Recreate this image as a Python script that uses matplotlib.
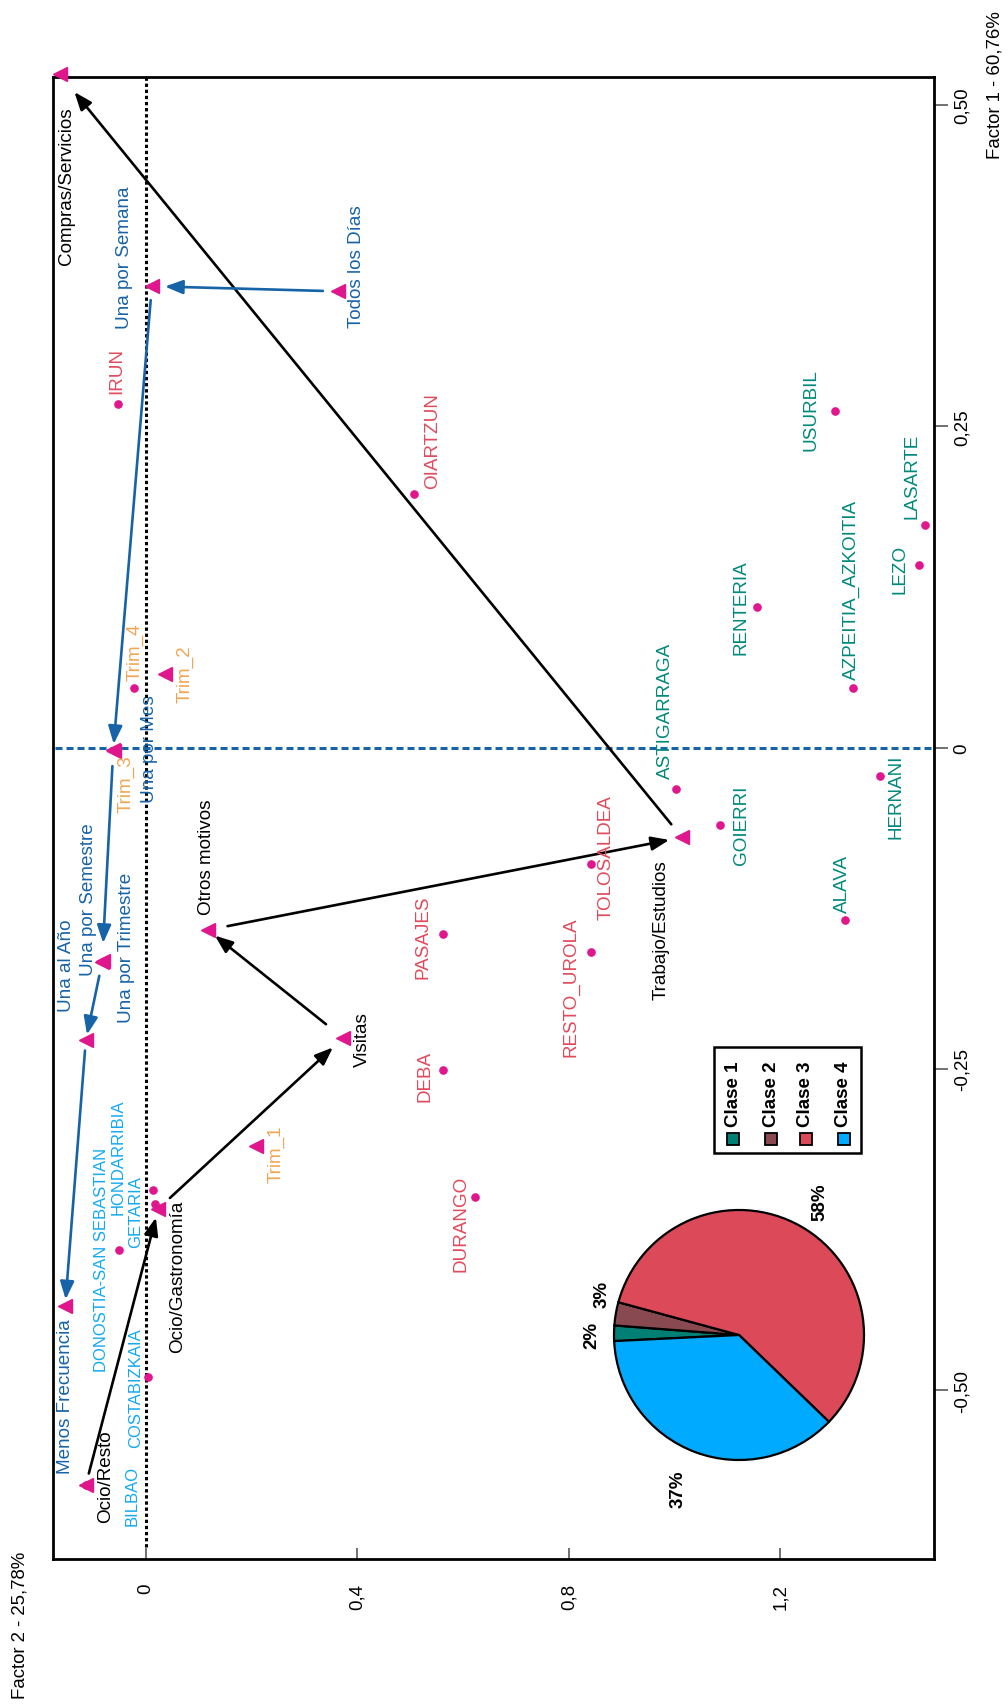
import matplotlib
matplotlib.use('Agg')
import numpy as np
import matplotlib.pyplot as plt
from matplotlib.patches import Rectangle

plt.rcParams['font.family'] = ['Liberation Sans', 'DejaVu Sans']

# ---------------- data (Factor 2 = horizontal, Factor 1 = vertical) ----------------
motivos = ['Compras/Servicios', 'Trabajo/Estudios', 'Otros motivos', 'Visitas',
           'Ocio/Gastronomía', 'Ocio/Resto']
motivos_f2 = [-0.163, 1.014, 0.117, 0.373, 0.023, -0.114]
motivos_f1 = [0.524, -0.070, -0.142, -0.226, -0.359, -0.574]

frecuencias = ['Todos los Días', 'Una por Semana', 'Una por Mes', 'Una por Trimestre',
               'Una por Semestre', 'Una al Año', 'Menos Frecuencia']
frec_f2 = [0.363, 0.011, -0.062, -0.081, -0.083, -0.114, -0.153]
frec_f1 = [0.355, 0.359, -0.002, -0.166, -0.167, -0.228, -0.435]

trimestres = ['Trim_1', 'Trim_2', 'Trim_3']
trim_f2 = [0.208, 0.036, -0.061]
trim_f1 = [-0.310, 0.057, -0.003]
trim4_name = 'Trim_4'
trim4_f2 = [-0.023]
trim4_f1 = [0.046]

clase1 = ['USURBIL', 'LASARTE', 'LEZO', 'AZPEITIA_AZKOITIA', 'RENTERIA', 'HERNANI',
          'GOIERRI', 'ASTIGARRAGA', 'ALAVA']
clase1_f2 = [1.303, 1.474, 1.462, 1.338, 1.156, 1.389, 1.086, 1.003, 1.322]
clase1_f1 = [0.262, 0.173, 0.142, 0.046, 0.109, -0.022, -0.060, -0.032, -0.134]

clase3 = ['IRUN', 'OIARTZUN', 'TOLOSALDEA', 'RESTO_UROLA', 'PASAJES', 'DEBA', 'DURANGO']
clase3_f2 = [-0.053, 0.507, 0.842, 0.842, 0.562, 0.562, 0.622]
clase3_f1 = [0.267, 0.197, -0.091, -0.159, -0.145, -0.251, -0.350]

clase4 = ['GETARIA', 'HONDARRIBIA', 'DONOSTIA-SAN SEBASTIAN', 'COSTABIZKAIA', 'BILBAO']
clase4_f2 = [0.013, 0.017, -0.051, 0.004, -0.114]
clase4_f1 = [-0.344, -0.355, -0.391, -0.490, -0.574]

motivo_path = ['Ocio/Resto', 'Ocio/Gastronomía', 'Visitas', 'Otros motivos',
               'Trabajo/Estudios', 'Compras/Servicios']
frec_path = ['Todos los Días', 'Una por Semana', 'Una por Mes', 'Una por Semestre',
             'Una al Año', 'Menos Frecuencia']

pie_labels = ['Clase 1', 'Clase 2', 'Clase 3', 'Clase 4']
pie_values = [2, 3, 58, 37]

x_ticks = [0, 0.4, 0.8, 1.2]
x_ticklabels = ['0', '0,4', '0,8', '1,2']
y_ticks = [0.5, 0.25, 0, -0.25, -0.5]
y_ticklabels = ['0,50', '0,25', '0', '-0,25', '-0,50']

# ---------------- layout / style ----------------
W, H, DPI = 1008, 1706, 100
PT = 72.0 / DPI  # points per pixel

MAGENTA = '#e0168c'
BLUE = '#1763a8'
ORANGE = '#f0a651'
TEAL = '#00897c'
RED = '#e04b5c'
LBLUE = '#12a9f2'
PIE_COLORS = ['#007f74', '#884a50', '#dc4a59', '#00aaff']

# label offsets in pixels (dx right, dy down) from the point
label_off = {
    'Compras/Servicios': (7, 111), 'Trabajo/Estudios': (-21, 92), 'Otros motivos': (-1, -74),
    'Visitas': (19, 1), 'Ocio/Gastronomía': (19, 67), 'Ocio/Resto': (20, -9),
    'Todos los Días': (19, -26), 'Una por Semana': (-27, -29), 'Una por Mes': (36, -2),
    'Una por Trimestre': (23, -14), 'Una por Semestre': (-14, -63), 'Una al Año': (-19, -76),
    'Menos Frecuencia': (0, 89),
    'Trim_1': (20, 7), 'Trim_2': (20, -1), 'Trim_3': (12, 32), 'Trim_4': (1, -37),
    'USURBIL': (-24, -2), 'LASARTE': (-13, -50), 'LEZO': (-19, 3), 'AZPEITIA_AZKOITIA': (-2, -99),
    'RENTERIA': (-16, -1), 'HERNANI': (16, 20), 'GOIERRI': (21, 0), 'ASTIGARRAGA': (-11, -79),
    'ALAVA': (-2, -37),
    'IRUN': (-1, -34), 'OIARTZUN': (19, -54), 'TOLOSALDEA': (15, -8), 'RESTO_UROLA': (-20, 34),
    'PASAJES': (-20, 2), 'DEBA': (-18, 5), 'DURANGO': (-14, 26),
    'GETARIA': (-17, 22), 'HONDARRIBIA': (-37, -47), 'DONOSTIA-SAN SEBASTIAN': (-18, 9),
    'COSTABIZKAIA': (-13, 10), 'BILBAO': (46, 10),
}
# arrow shrink (px) at start / end
motivo_shrink = [(12, 9), (16, 14), (22, 9), (20, 13), (17, 23)]
frec_shrink = [(15, 13), (14, 6), (16, 19), (14, 6), (10, 7)]


def fx(px):
    return px / W


def fy(py):
    return 1 - py / H


fig = plt.figure(figsize=(W / DPI, H / DPI), dpi=DPI)
ax = fig.add_axes([fx(53), fy(1560), (934 - 53) / W, (1560 - 78) / H])
ax.set_xlim(-0.176, 1.4907)
ax.set_ylim(-0.6315, 0.5218)

for s in ax.spines.values():
    s.set_linewidth(2.0)
    s.set_color('black')

# reference lines
ax.axvline(0, ymin=0.008, ymax=1, color='black', lw=2.2, ls=(0, (1.1, 0.9)), zorder=2)
ax.axhline(0, xmin=0.002, xmax=1, color=BLUE, lw=2.2, ls=(0, (2.3, 1.3)), zorder=2)

# points
ax.plot(clase1_f2, clase1_f1, 'o', color=MAGENTA, ms=5.2, zorder=4)
ax.plot(clase3_f2, clase3_f1, 'o', color=MAGENTA, ms=5.2, zorder=4)
ax.plot(clase4_f2, clase4_f1, 'o', color=MAGENTA, ms=5.2, zorder=4)
ax.plot(trim4_f2, trim4_f1, 'o', color=MAGENTA, ms=5.2, zorder=4)
ax.plot(motivos_f2, motivos_f1, '<', color=MAGENTA, ms=10.5, zorder=5, clip_on=False)
ax.plot(frec_f2, frec_f1, '<', color=MAGENTA, ms=10.5, zorder=5, clip_on=False)
ax.plot(trim_f2, trim_f1, '<', color=MAGENTA, ms=10.5, zorder=5, clip_on=False)

coords = {}
for names, xs, ys in [(motivos, motivos_f2, motivos_f1), (frecuencias, frec_f2, frec_f1),
                      (trimestres, trim_f2, trim_f1), ([trim4_name], trim4_f2, trim4_f1),
                      (clase1, clase1_f2, clase1_f1), (clase3, clase3_f2, clase3_f1),
                      (clase4, clase4_f2, clase4_f1)]:
    for n, x, y in zip(names, xs, ys):
        coords[n] = (x, y)


def label(names, color, size):
    for n in names:
        dx, dy = label_off[n]
        ax.annotate(n, coords[n], xytext=(dx * PT, -dy * PT), textcoords='offset points',
                    rotation=90, ha='center', va='center', color=color, fontsize=size,
                    zorder=6, annotation_clip=False)


label(motivos, 'black', 13.6)
label(frecuencias, BLUE, 13.6)
label(trimestres + [trim4_name], ORANGE, 13.6)
label(clase1, TEAL, 13.6)
label(clase3, RED, 13.6)
label(clase4, LBLUE, 12)


def arrows(path, shrinks, color):
    for (a, b), (sa, sb) in zip(zip(path[:-1], path[1:]), shrinks):
        ax.annotate('', xy=coords[b], xytext=coords[a],
                    arrowprops=dict(arrowstyle='-|>,head_length=0.9,head_width=0.35',
                                    mutation_scale=12, color=color, lw=1.9,
                                    shrinkA=sa * PT, shrinkB=sb * PT),
                    zorder=3, annotation_clip=False)


arrows(motivo_path, motivo_shrink, 'black')
arrows(frec_path, frec_shrink, BLUE)

# ticks
ax.set_xticks(x_ticks)
ax.set_xticklabels(x_ticklabels)
ax.set_yticks(y_ticks)
ax.set_yticklabels(y_ticklabels)
ax.yaxis.tick_right()
ax.tick_params(axis='x', direction='in', length=8, width=1.3, color='#666666', pad=17,
               labelsize=13.5, labelrotation=90)
ax.tick_params(axis='y', direction='out', length=10, width=1.3, color='#666666', pad=4,
               labelsize=13.5, labelrotation=90)
for t in ax.get_yticklabels():
    t.set_va('center')

fig.text(fx(20), fy(1625), 'Factor 2 - 25,78%', rotation=90, ha='center', va='center',
         fontsize=13.4)
fig.text(fx(995), fy(85), 'Factor 1 - 60,76%', rotation=90, ha='center', va='center',
         fontsize=13.4)

# ---------------- pie inset ----------------
cx, cy, r = 739, 1336, 125
axp = fig.add_axes([fx(cx - r), fy(cy + r), 2 * r / W, 2 * r / H])
wedges, _ = axp.pie(pie_values, colors=PIE_COLORS, startangle=182.8, counterclock=False,
                    wedgeprops=dict(edgecolor='black', linewidth=1.6))
axp.set_xlim(-1, 1)
axp.set_ylim(-1, 1)
axp.axis('off')
pct_pos = [(1.18, 0.5), (1.14, -7), (1.25, -1.5), (1.32, -1)]
for w, v, (rr, da) in zip(wedges, pie_values, pct_pos):
    mid = np.deg2rad((w.theta1 + w.theta2) / 2 + da)
    axp.text(rr * np.cos(mid), rr * np.sin(mid), f'{v}%', rotation=90, ha='center',
             va='center', fontsize=13.5, fontweight='bold', clip_on=False)

# ---------------- legend (manual, rotated) ----------------
fig.add_artist(Rectangle((fx(714), fy(1154)), (861 - 714) / W, (1154 - 1048) / H,
                         transform=fig.transFigure, fill=False, edgecolor='black', lw=1.8))
leg_x = [733, 771, 806, 844]
sq = 12
for lx, lab, col in zip(leg_x, pie_labels, PIE_COLORS):
    fig.add_artist(Rectangle((fx(lx - sq / 2), fy(1140 + sq / 2)), sq / W, sq / H,
                             transform=fig.transFigure, facecolor=col, edgecolor='black',
                             lw=1.3))
    fig.text(fx(lx), fy(1094), lab, rotation=90, ha='center', va='center', fontsize=13.5,
             fontweight='bold')

fig.savefig('out.png', dpi=DPI)
